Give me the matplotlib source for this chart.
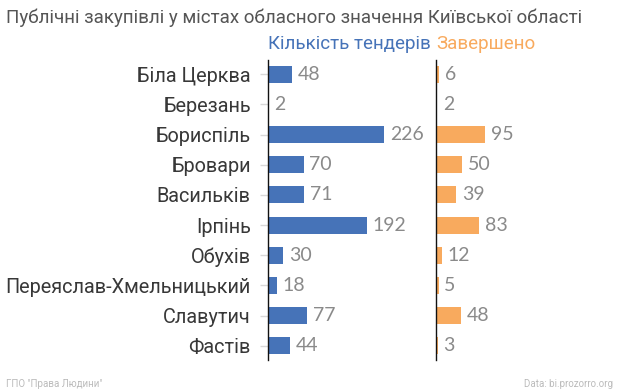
import numpy as np
import matplotlib
matplotlib.use("Agg")
import matplotlib.pyplot as plt

# data
cities = ["Біла Церква", "Березань", "Бориспіль", "Бровари", "Васильків",
          "Ірпінь", "Обухів", "Переяслав-Хмельницький", "Славутич", "Фастів"]
tenders = [48, 2, 226, 70, 71, 192, 30, 18, 77, 44]
completed = [6, 2, 95, 50, 39, 83, 12, 5, 48, 3]

title = "Публічні закупівлі у містах обласного значення Київської області"
head_left = "Кількість тендерів"
head_right = "Завершено"
footer_left = "ГПО \"Права Людини\""
footer_right = "Data: bi.prozorro.org"

BLUE = "#4673b8"
ORANGE = "#f8aa5e"
W, H = 620, 392
px_per_unit = 0.517

fig = plt.figure(figsize=(W / 100, H / 100), dpi=100)


def px_axes(x0, y_top, x1, y_bot):
    return fig.add_axes([x0 / W, 1 - y_bot / H, (x1 - x0) / W, (y_bot - y_top) / H])


ax1 = px_axes(267.5, 60, 436, 360)
ax2 = px_axes(436, 60, 620, 360)

y = np.arange(len(cities))
for ax, vals, col, width_px in [(ax1, tenders, BLUE, 436 - 267.5), (ax2, completed, ORANGE, 620 - 436)]:
    ax.barh(y, vals, height=0.56, color=col)
    ax.set_xlim(0, width_px / px_per_unit)
    ax.set_ylim(9.47, -0.47)
    for yi, v in zip(y, vals):
        ax.text(v + 11, yi, str(v), va="center", ha="left", fontsize=14,
                color="#8a8a8a", family="Lato", fontweight="normal")
    for s in ["top", "right", "bottom"]:
        ax.spines[s].set_visible(False)
    ax.spines["left"].set_color("#111111")
    ax.spines["left"].set_linewidth(1.0)
    ax.set_xticks([])

ax1.set_yticks(y)
ax1.set_yticklabels(cities, fontsize=14.3, color="#383838", family="Roboto")
ax1.tick_params(axis="y", length=6, width=1, color="#d8d8d8", pad=6)
ax2.set_yticks([])

fig.text(6 / W, 1 - 18 / H, title, fontsize=13.5, color="#555555",
         family="Roboto", va="center", ha="left")
fig.text(268 / W, 1 - 44 / H, head_left, fontsize=13.5, color=BLUE,
         family="Roboto", va="center", ha="left")
fig.text(436 / W, 1 - 44 / H, head_right, fontsize=13.5, color=ORANGE,
         family="Roboto", va="center", ha="left")
fig.text(6 / W, 1 - 384 / H, footer_left, fontsize=7, color="#bbbbbb",
         family="Roboto", va="center", ha="left")
fig.text(613 / W, 1 - 384 / H, footer_right, fontsize=7, color="#bbbbbb",
         family="Roboto", va="center", ha="right")

fig.savefig("out.png", dpi=100)
